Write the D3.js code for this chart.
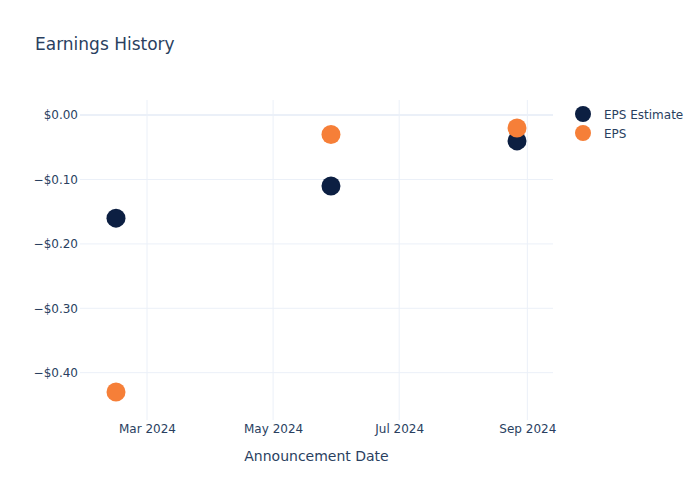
<!DOCTYPE html>
<html>
<head>
<meta charset="utf-8">
<script src="https://cdn.jsdelivr.net/npm/d3@7"></script>
<style>
    body { margin: 0; background: #fff; }
    text { font-family: "DejaVu Sans", sans-serif; fill: #2a3f5f; }
</style>
</head>
<body>
<svg id="chart" width="700" height="500"></svg>
<script>
// data
var dates = ['2024-02-15', '2024-05-29', '2024-08-27'];
var epsEstimate = [-0.16, -0.11, -0.04];
var epsActual = [-0.43, -0.03, -0.02];
var seriesNames = ['EPS Estimate', 'EPS'];
var seriesColors = ['#0c1f42', '#f67f38'];
var xTicks = ['2024-03-01', '2024-05-01', '2024-07-01', '2024-09-01'];
var yTicks = [0, -0.1, -0.2, -0.3, -0.4];

var parse = d3.timeParse('%Y-%m-%d');
var plot = {left: 80, right: 553, top: 100, bottom: 420};
var PAD = 36, PADY = 28, R = 9.5;

var svg = d3.select('#chart');

/*
 Scales, padded in pixels around the data like plotly's autorange
 */
var xDates = dates.map(parse);
var x = d3.scaleTime()
    .domain(d3.extent(xDates))
    .range([plot.left + PAD, plot.right - PAD]);
x.domain([x.invert(plot.left), x.invert(plot.right)]).range([plot.left, plot.right]);

var allY = epsEstimate.concat(epsActual);
var y = d3.scaleLinear()
    .domain([d3.min(allY), d3.max(allY)])
    .range([plot.bottom - PADY, plot.top + PADY]);
y.domain([y.invert(plot.bottom), y.invert(plot.top)]).range([plot.bottom, plot.top]);

/*
 Grid
 */
var grid = svg.append('g');

grid.selectAll('.vgrid')
    .data(xTicks.map(parse))
    .enter().append('line')
    .classed('vgrid', true)
    .attr('x1', function (d) { return x(d); })
    .attr('x2', function (d) { return x(d); })
    .attr('y1', plot.top)
    .attr('y2', plot.bottom)
    .attr('stroke', '#ebf0f8')
    .attr('stroke-width', 1);

grid.selectAll('.hgrid')
    .data(yTicks)
    .enter().append('line')
    .classed('hgrid', true)
    .attr('x1', plot.left)
    .attr('x2', plot.right)
    .attr('y1', function (d) { return y(d); })
    .attr('y2', function (d) { return y(d); })
    .attr('stroke', '#ebf0f8')
    .attr('stroke-width', function (d) { return d === 0 ? 2 : 1; });

/*
 Axes
 */
var fmtMoney = function (d) {
    var s = '$' + Math.abs(d).toFixed(2);
    return d < 0 ? '\u2212' + s : s;
};

var xAxis = d3.axisBottom(x)
    .tickValues(xTicks.map(parse))
    .tickFormat(d3.timeFormat('%b %Y'))
    .tickSize(0)
    .tickPadding(4);

var gx = svg.append('g')
    .attr('transform', 'translate(0,' + plot.bottom + ')')
    .call(xAxis);
gx.select('.domain').remove();
gx.selectAll('text').attr('font-size', 12).style('font-family', '"DejaVu Sans", sans-serif');

var yAxis = d3.axisLeft(y)
    .tickValues(yTicks)
    .tickFormat(fmtMoney)
    .tickSize(0)
    .tickPadding(2);

var gy = svg.append('g')
    .attr('transform', 'translate(' + plot.left + ',0)')
    .call(yAxis);
gy.select('.domain').remove();
gy.selectAll('text').attr('font-size', 12).style('font-family', '"DejaVu Sans", sans-serif');

svg.selectAll('.tick text').style('fill', '#2a3f5f');

svg.append('text')
    .attr('x', (plot.left + plot.right) / 2)
    .attr('y', 461)
    .attr('text-anchor', 'middle')
    .attr('font-size', 14)
    .text('Announcement Date');

svg.append('text')
    .attr('x', 35)
    .attr('y', 50)
    .attr('font-size', 17)
    .text('Earnings History');

/*
 Points
 */
var series = [epsEstimate, epsActual];

series.forEach(function (vals, si) {
    svg.append('g').selectAll('circle')
        .data(vals)
        .enter().append('circle')
        .attr('cx', function (d, i) { return x(xDates[i]); })
        .attr('cy', function (d) { return y(d); })
        .attr('r', R)
        .attr('fill', seriesColors[si]);
});

/*
 Legend
 */
var legend = svg.selectAll('.legend')
    .data(seriesNames)
    .enter().append('g')
    .classed('legend', true)
    .attr('transform', function (d, i) { return 'translate(583,' + (114 + i * 19) + ')'; });

legend.append('circle')
    .attr('r', 8)
    .attr('fill', function (d, i) { return seriesColors[i]; });

legend.append('text')
    .attr('x', 21)
    .attr('y', 4.5)
    .attr('font-size', 12)
    .text(function (d) { return d; });
</script>
</body>
</html>
